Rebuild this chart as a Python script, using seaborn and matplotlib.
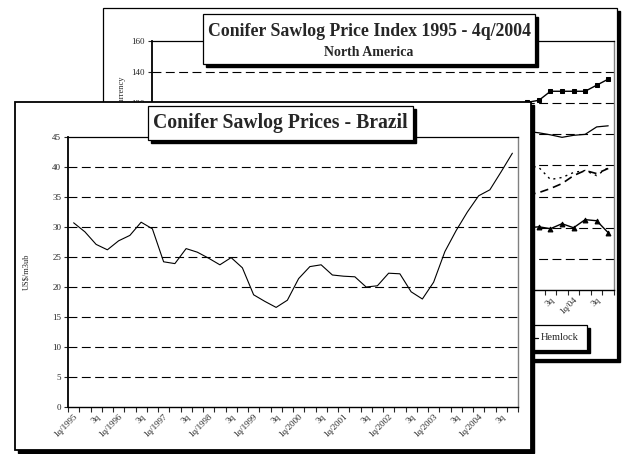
import numpy as np
import pandas as pd
import matplotlib
matplotlib.use("Agg")
import matplotlib.pyplot as plt
from matplotlib.patches import Rectangle
from matplotlib.lines import Line2D
from matplotlib.ticker import FixedLocator
import seaborn as sns

sns.set_style("white")
plt.rcParams["font.family"] = ["Liberation Serif", "DejaVu Serif"]

# --- data -------------------------------------------------------------
# Brazil, US$/m3ub, quarterly 1q/1995 .. 4q/2004
brazil = [30.7, 29.2, 27.1, 26.2, 27.7, 28.6, 30.8, 29.7, 24.2, 23.9,
          26.4, 25.8, 24.8, 23.7, 24.9, 23.2, 18.7, 17.6, 16.6, 17.8,
          21.4, 23.4, 23.7, 22.0, 21.8, 21.7, 20.0, 20.2, 22.3, 22.2,
          19.2, 18.0, 20.8, 25.9, 29.4, 32.5, 35.2, 36.2, 39.2, 42.3]
brazil_labels = ["1q/1995", "3q", "1q/1996", "3q", "1q/1997", "3q", "1q/1998", "3q",
                 "1q/1999", "3q", "1q/2000", "3q", "1q/2001", "3q", "1q/2002", "3q",
                 "1q/2003", "3q", "1q/2004", "3q"]

# North America index, only the last quarters are visible (rest hidden behind front panel)
na_quarter = [32, 33, 34, 35, 36, 37, 38, 39]
na_square = [120.6, 121.9, 127.7, 127.7, 127.7, 127.7, 131.6, 135.5]
na_solid = [101.9, 101.0, 99.7, 98.1, 99.4, 100.0, 104.8, 105.5]
na_dashed = [61.0, 62.6, 65.2, 68.4, 73.5, 76.8, 74.8, 78.1]
na_dotted = [80.0, 78.7, 71.0, 72.3, 75.5, 76.8, 73.5, 78.7]
hemlock = [40.0, 40.6, 39.4, 42.6, 40.0, 45.2, 44.5, 36.8]
na_labels = ["1q/95", "3q", "1q/96", "3q", "1q/97", "3q", "1q/98", "3q",
             "1q/99", "3q", "1q/00", "3q", "1q/01", "3q", "1q/02", "3q",
             "1q/03", "3q", "1q/04", "3q"]

W, H = 624, 454


def fx(px):
    return px / W


def fy(py):
    return 1 - py / H


def box(fig, x0, y0, x1, y1, z, shadow=3, lw=0.9):
    fig.patches.append(Rectangle((fx(x0 + shadow), fy(y1 + shadow)), (x1 - x0) / W, (y1 - y0) / H,
                                 transform=fig.transFigure, facecolor="black", edgecolor="black",
                                 zorder=z))
    fig.patches.append(Rectangle((fx(x0), fy(y1)), (x1 - x0) / W, (y1 - y0) / H,
                                 transform=fig.transFigure, facecolor="white", edgecolor="black",
                                 lw=lw, zorder=z + 0.01))


def style_axes(ax):
    for s in ["left", "bottom", "top"]:
        ax.spines[s].set_color("black")
    ax.spines["left"].set_linewidth(1.3)
    ax.spines["bottom"].set_linewidth(1.0)
    ax.spines["top"].set_linewidth(0.9)
    ax.spines["right"].set_color("#808080")
    ax.spines["right"].set_linewidth(1.0)
    ax.tick_params(axis="y", which="major", direction="out", length=3, width=0.8,
                   labelsize=6.5, pad=2, left=True)
    ax.tick_params(axis="x", which="major", length=0, labelsize=6.5, pad=4)
    ax.tick_params(axis="x", which="minor", direction="out", length=3.5, width=0.8, bottom=True)


fig = plt.figure(figsize=(6.24, 4.54), dpi=100)

# --- background panel: North America ------------------------------------
box(fig, 103, 8, 617, 359, z=-3, shadow=3)

ax2 = fig.add_axes([fx(152), fy(290), (614 - 152) / W, (290 - 41) / H])
ax2.set_zorder(-2)
na = pd.DataFrame({"q": na_quarter, "sq": na_square, "so": na_solid,
                   "da": na_dashed, "do": na_dotted, "he": hemlock})
sns.lineplot(data=na, x="q", y="sq", ax=ax2, color="black", lw=1.0, marker="s",
             markersize=3.5, markeredgecolor="black")
sns.lineplot(data=na, x="q", y="so", ax=ax2, color="black", lw=0.9)
sns.lineplot(data=na, x="q", y="da", ax=ax2, color="black", lw=1.2, linestyle=(0, (5, 3)))
sns.lineplot(data=na, x="q", y="do", ax=ax2, color="black", lw=1.0, linestyle=(0, (1.5, 3)))
sns.lineplot(data=na, x="q", y="he", ax=ax2, color="black", lw=1.0, marker="^",
             markersize=3.5, markeredgecolor="black")
ax2.set_xlim(-0.5, 39.5)
ax2.set_ylim(0, 160)
ax2.set_yticks(np.arange(0, 161, 20))
for v in range(20, 141, 20):
    ax2.axhline(v, color="black", lw=0.8, linestyle=(0, (8, 4)), zorder=0.5)
ax2.set_xticks(np.arange(0, 40, 2))
ax2.set_xticklabels(na_labels, rotation=45, ha="right", va="top", rotation_mode="anchor")
ax2.xaxis.set_minor_locator(FixedLocator(np.arange(-0.5, 40, 1)))
ax2.set_xlabel("")
ax2.set_ylabel("")
style_axes(ax2)

fig.text(fx(122), fy(76), "Index 1q/1995 = 100, based on local currency", rotation=90,
         ha="center", va="top", fontsize=6, zorder=-1.5)

# background title
box(fig, 203, 14, 535, 64, z=-1, shadow=3)
fig.text(fx(369), fy(32), "Conifer Sawlog Price Index 1995 - 4q/2004", ha="center",
         va="center", fontsize=12.8, fontweight="bold", zorder=-0.9)
fig.text(fx(369), fy(53), "North America", ha="center", va="center", fontsize=10,
         fontweight="bold", zorder=-0.9)

# background legend (only the last entry shows)
box(fig, 420, 325, 587, 350, z=-1, shadow=3)
fig.lines.append(Line2D([fx(515), fx(538)], [fy(337.5), fy(337.5)], transform=fig.transFigure,
                        color="black", lw=0.9, zorder=-0.9))
fig.text(fx(541), fy(337.5), "Hemlock", ha="left", va="center", fontsize=7.5, zorder=-0.9)

# --- front panel: Brazil -------------------------------------------------
box(fig, 15, 101.5, 531, 450, z=1, shadow=3, lw=1.3)

ax = fig.add_axes([fx(68), fy(407), (518 - 68) / W, (407 - 137) / H])
ax.set_zorder(2)
df = pd.DataFrame({"q": np.arange(len(brazil)), "price": brazil})
sns.lineplot(data=df, x="q", y="price", ax=ax, color="black", lw=0.8)
ax.set_xlim(-0.5, 39.5)
ax.set_ylim(0, 45)
ax.set_yticks(np.arange(0, 46, 5))
for v in range(5, 41, 5):
    ax.axhline(v, color="black", lw=0.8, linestyle=(0, (8, 4)), zorder=0.5)
ax.set_xticks(np.arange(0, 40, 2))
ax.set_xticklabels(brazil_labels, rotation=45, ha="right", va="top", rotation_mode="anchor")
ax.xaxis.set_minor_locator(FixedLocator(np.arange(-0.5, 40, 1)))
ax.set_xlabel("")
ax.set_ylabel("US$/m3ub", fontsize=6)
ax.yaxis.set_label_coords(-0.084, 0.5)
style_axes(ax)

# front title
box(fig, 148, 106, 413, 140, z=3, shadow=3)
fig.text(fx(280.5), fy(123), "Conifer Sawlog Prices - Brazil", ha="center", va="center",
         fontsize=14.2, fontweight="bold", zorder=3.1)

fig.savefig("out.png", dpi=100)
